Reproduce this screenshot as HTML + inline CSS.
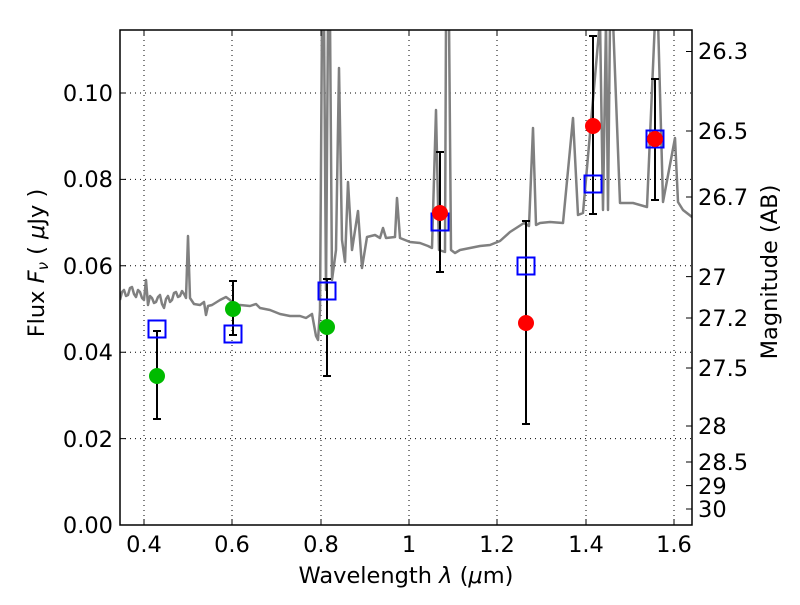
<!DOCTYPE html><html><head><style>body{margin:0;background:#fff}svg text{font-family:"DejaVu Sans","Liberation Sans",sans-serif;font-size:22.5px}</style></head><body>
<svg width="800" height="600" xmlns="http://www.w3.org/2000/svg">
<rect width="800" height="600" fill="#fff"/>
<g stroke="#000" stroke-dasharray="1,4" stroke-width="1">
<line x1="144" y1="30" x2="144" y2="525"/><line x1="232" y1="30" x2="232" y2="525"/><line x1="321" y1="30" x2="321" y2="525"/><line x1="409" y1="30" x2="409" y2="525"/><line x1="497" y1="30" x2="497" y2="525"/><line x1="586" y1="30" x2="586" y2="525"/><line x1="674" y1="30" x2="674" y2="525"/>
<line x1="120" y1="438.6" x2="692" y2="438.6"/><line x1="120" y1="352.2" x2="692" y2="352.2"/><line x1="120" y1="265.8" x2="692" y2="265.8"/><line x1="120" y1="179.4" x2="692" y2="179.4"/><line x1="120" y1="93" x2="692" y2="93"/>
</g>
<svg x="120" y="30" width="572" height="495" viewBox="120 30 572 495">
<polyline fill="none" stroke="#808080" stroke-width="2.5" stroke-linejoin="round" points="120,300 122,292 124,290 126,296 128,295 130,288 132,287 134,294 136,297 138,290 140,292 142,298 144,300 146,280 148,305 150,296 152,298 154,303 156,302 158,297 160,295 162,304 164,308 166,299 168,296 170,302 172,300 174,293 176,292 178,297 180,296 182,291 184,294 186,298 188,236 190,298 194,304 200,305 204,302 206,315 208,306 212,305 220,300 226,297 230,300 234,305 240,305 250,306 256,304 260,308 270,310 280,314 290,316 300,316 306,318 312,314 316,336 318,340 320,310 322,20 324,20 326,290 328,20 330,20 332,280 336,250 339,68 342,240 345,262 348,182 352,250 358,211 362,268 367,237 375,235 380,238 383,228 386,238 395,237 397,198 400,238 405,240 410,242 420,243 428,246 432,248 436,110 439,250 445,252 446,20 449,20 451,250 455,253 460,250 470,248 480,246 490,245 500,241 510,232 524,223 529,226 533,128 536,225 540,223 550,222 563,223 573,118 578,215 583,213 600,20 603,210 606,20 608,210 610,20 613,20 620,203 633,203 647,207 655,20 658,20 663,202 675,138 678,202 683,210 692,217"/>
</svg>
<g stroke="#000" stroke-width="2">
<line x1="157" y1="331" x2="157" y2="419"/><line x1="153" y1="331" x2="161" y2="331"/><line x1="153" y1="419" x2="161" y2="419"/>
<line x1="233" y1="281" x2="233" y2="335"/><line x1="229" y1="281" x2="237" y2="281"/><line x1="229" y1="335" x2="237" y2="335"/>
<line x1="327" y1="279" x2="327" y2="376"/><line x1="323" y1="279" x2="331" y2="279"/><line x1="323" y1="376" x2="331" y2="376"/>
<line x1="440" y1="152" x2="440" y2="272"/><line x1="436" y1="152" x2="444" y2="152"/><line x1="436" y1="272" x2="444" y2="272"/>
<line x1="526" y1="221" x2="526" y2="424"/><line x1="522" y1="221" x2="530" y2="221"/><line x1="522" y1="424" x2="530" y2="424"/>
<line x1="593" y1="36" x2="593" y2="214"/><line x1="589" y1="36" x2="597" y2="36"/><line x1="589" y1="214" x2="597" y2="214"/>
<line x1="655" y1="79" x2="655" y2="200"/><line x1="651" y1="79" x2="659" y2="79"/><line x1="651" y1="200" x2="659" y2="200"/>
</g>
<g fill="none" stroke="#0000ff" stroke-width="2">
<rect x="148.5" y="320.5" width="17" height="17"/><rect x="224.5" y="325.5" width="17" height="17"/><rect x="318.5" y="282.5" width="17" height="17"/><rect x="431.5" y="213.5" width="17" height="17"/><rect x="517.5" y="257.5" width="17" height="17"/><rect x="584.5" y="175.5" width="17" height="17"/><rect x="646.5" y="130.5" width="17" height="17"/>
</g>
<g fill="#00bb00"><circle cx="157" cy="376" r="8"/><circle cx="233" cy="309" r="8"/><circle cx="327" cy="327" r="8"/></g>
<g fill="#ff0000"><circle cx="440" cy="213" r="8"/><circle cx="526" cy="323" r="8"/><circle cx="593" cy="126" r="8"/><circle cx="655" cy="139" r="8"/></g>
<rect x="120" y="30" width="572" height="495" fill="none" stroke="#000" stroke-width="1.5"/>
<g stroke="#000" stroke-width="1">
<path d="M144,525v-6M232,525v-6M321,525v-6M409,525v-6M497,525v-6M586,525v-6M674,525v-6M144,30v6M232,30v6M321,30v6M409,30v6M497,30v6M586,30v6M674,30v6"/>
<path d="M120,438.6h6M120,352.2h6M120,265.8h6M120,179.4h6M120,93h6"/>
<path d="M692,51.5h-6M692,131h-6M692,197h-6M692,276.6h-6M692,318h-6M692,368h-6M692,426h-6M692,462h-6M692,485.6h-6M692,509h-6"/>
</g>
<g text-anchor="middle">
<text x="144" y="552">0.4</text><text x="232" y="552">0.6</text><text x="321" y="552">0.8</text><text x="409" y="552">1</text><text x="497" y="552">1.2</text><text x="586" y="552">1.4</text><text x="674" y="552">1.6</text>
</g>
<g text-anchor="end">
<text x="113" y="533">0.00</text><text x="113" y="447">0.02</text><text x="113" y="360">0.04</text><text x="113" y="274">0.06</text><text x="113" y="187">0.08</text><text x="113" y="101">0.10</text>
</g>
<g>
<text x="698" y="59">26.3</text><text x="698" y="139">26.5</text><text x="698" y="205">26.7</text><text x="698" y="285">27</text><text x="698" y="326">27.2</text><text x="698" y="376">27.5</text><text x="698" y="434">28</text><text x="698" y="470">28.5</text><text x="698" y="494">29</text><text x="698" y="517">30</text>
</g>
<text x="406" y="583" text-anchor="middle">Wavelength  <tspan font-style="italic">λ</tspan> (<tspan font-style="italic">μ</tspan>m)</text>
<text transform="translate(44,263) rotate(-90)" text-anchor="middle">Flux  <tspan font-style="italic">F</tspan><tspan font-style="italic" font-size="15" dy="4">ν</tspan><tspan dy="-4">  ( <tspan font-style="italic">μ</tspan>Jy )</tspan></text>
<text transform="translate(777,272) rotate(-90)" text-anchor="middle">Magnitude (AB)</text>
</svg>
</body></html>
